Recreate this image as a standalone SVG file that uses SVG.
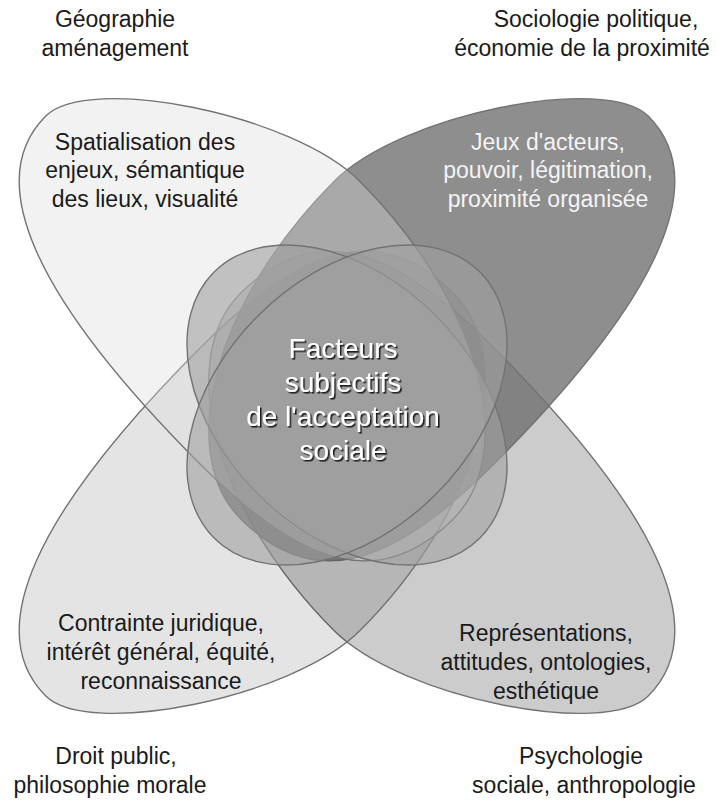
<svg xmlns="http://www.w3.org/2000/svg" width="716" height="807" viewBox="0 0 716 807">
<style>
.lbl{font-family:"Liberation Sans",Arial,sans-serif;font-size:23px;fill:#1a1a1a;text-anchor:middle}
.wh{fill:#f4f4f4}
.ctr{font-family:"Liberation Sans",Arial,sans-serif;font-size:28px;fill:#ffffff;text-anchor:middle}
.edge{stroke:#737373;stroke-width:1.4}
.core{fill:#a0a0a0;fill-opacity:0.6}
</style>
<defs>
<path id="petal" d="M-418,8 C-418,-52 -245,-168 -150,-168 C18,-168 155,-90 155,5 C155,103 90,145 -60,145 C-300,145 -418,98 -418,8 Z"/>
<filter id="sh" x="-10%" y="-10%" width="120%" height="130%">
<feDropShadow dx="1.6" dy="1.6" stdDeviation="0.6" flood-color="#111" flood-opacity="0.9"/>
</filter>
</defs>
<rect width="716" height="807" fill="#fff"/>
<g id="connectors"/>
<g id="tr-petal"><use href="#petal" class="edge" fill="#8e8e8e" transform="translate(347 406) scale(-1 1) rotate(45)"/></g>
<g id="br-petal"><use href="#petal" class="edge" fill="#6b6b6b" fill-opacity="0.345" transform="translate(347 406) rotate(225)"/></g>
<g id="bl-petal"><use href="#petal" class="edge" fill="#000" fill-opacity="0.105" transform="translate(347 406) scale(1 -1) rotate(45)"/></g>
<g id="tl-petal"><use href="#petal" class="edge" fill="#dadada" fill-opacity="0.36" transform="translate(347 406) rotate(45)"/></g>
<g id="center">
<ellipse cx="0" cy="0" rx="188" ry="126" class="edge core" transform="translate(347 405) rotate(45)"/>
<ellipse cx="0" cy="0" rx="188" ry="126" class="edge core" transform="translate(347 405) rotate(-45)"/>
<g filter="url(#sh)">
<text class="ctr" x="343" y="358">Facteurs</text>
<text class="ctr" x="343" y="392">subjectifs</text>
<text class="ctr" x="343" y="426">de l'acceptation</text>
<text class="ctr" x="343" y="460">sociale</text>
</g>
</g>
<g id="tl-label">
<text class="lbl" x="115" y="27">Géographie</text>
<text class="lbl" x="115" y="56">aménagement</text>
<text class="lbl" x="145" y="150">Spatialisation des</text>
<text class="lbl" x="145" y="178">enjeux, sémantique</text>
<text class="lbl" x="145" y="207">des lieux, visualité</text>
</g>
<g id="tr-label">
<text class="lbl" x="596" y="27">Sociologie politique,</text>
<text class="lbl" x="582" y="56">économie de la proximité</text>
<text class="lbl wh" x="548" y="150">Jeux d'acteurs,</text>
<text class="lbl wh" x="548" y="178">pouvoir, légitimation,</text>
<text class="lbl wh" x="548" y="207">proximité organisée</text>
</g>
<g id="bl-label">
<text class="lbl" x="161" y="631">Contrainte juridique,</text>
<text class="lbl" x="161" y="660">intérêt général, équité,</text>
<text class="lbl" x="161" y="689">reconnaissance</text>
<text class="lbl" x="116" y="764">Droit public,</text>
<text class="lbl" x="110" y="793">philosophie morale</text>
</g>
<g id="br-label">
<text class="lbl" x="546" y="641">Représentations,</text>
<text class="lbl" x="546" y="670">attitudes, ontologies,</text>
<text class="lbl" x="546" y="699">esthétique</text>
<text class="lbl" x="581" y="764">Psychologie</text>
<text class="lbl" x="584" y="793">sociale, anthropologie</text>
</g>
</svg>
